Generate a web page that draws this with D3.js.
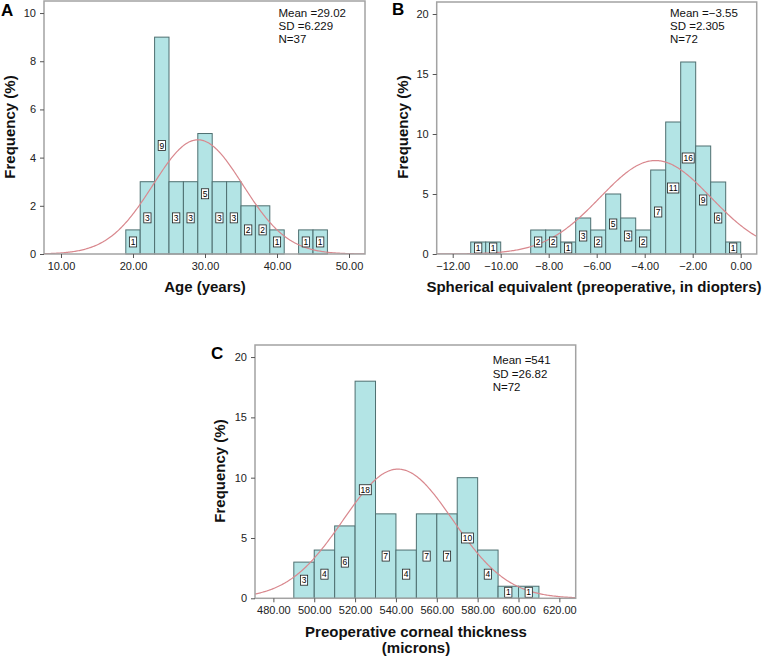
<!DOCTYPE html>
<html>
<head>
<meta charset="utf-8">
<script src="https://cdn.jsdelivr.net/npm/d3@7/dist/d3.min.js"></script>
<style>
  html,body{margin:0;padding:0;background:#fff;}
  svg{display:block;font-family:Arial,"Liberation Sans",sans-serif;}
</style>
</head>
<body>
<svg id="chart" width="764" height="658"></svg>
<script>
// ---------- DATA ----------
// Panel A: Age (years)
const ageLower  = [19,21,23,25,27,29,31,33,35,37,39,41,43,45];
const ageCounts = [1,3,9,3,3,5,3,3,2,2,1,0,1,1];
const ageBinWidth = 2;
const ageMean = 29.02, ageSD = 6.229, ageN = 37;
const ageStatLines = ["Mean =29.02","SD =6.229","N=37"];
const ageXTicks = [10,20,30,40,50];
const ageYTicks = [0,2,4,6,8,10];

// Panel B: Spherical equivalent
const sphLower  = [-11.25,-10.625,-10,-9.375,-8.75,-8.125,-7.5,-6.875,-6.25,-5.625,-5,-4.375,-3.75,-3.125,-2.5,-1.875,-1.25,-0.625];
const sphCounts = [1,1,0,0,2,2,1,3,2,5,3,2,7,11,16,9,6,1];
const sphBinWidth = 0.625;
const sphMean = -3.55, sphSD = 2.305, sphN = 72;
const sphStatLines = ["Mean =\u22123.55","SD =2.305","N=72"];
const sphXTicks = [-12,-10,-8,-6,-4,-2,0];
const sphYTicks = [0,5,10,15,20];

// Panel C: Preoperative corneal thickness
const cctLower  = [490,500,510,520,530,540,550,560,570,580,590,600];
const cctCounts = [3,4,6,18,7,4,7,7,10,4,1,1];
const cctBinWidth = 10;
const cctMean = 541, cctSD = 26.82, cctN = 72;
const cctStatLines = ["Mean =541","SD =26.82","N=72"];
const cctXTicks = [480,500,520,540,560,580,600,620];
const cctYTicks = [0,5,10,15,20];

// ---------- DRAW ----------
const svg = d3.select("#chart");
const BAR_FILL = "#b3e4e5", BAR_STROKE = "#4e6f70", CURVE = "#d9888e", FRAME = "#a3a3a3";
const fmtX = d3.format(".2f");

function panel(cfg, idx) {
  const x = d3.scaleLinear().domain(cfg.xDom).range([cfg.left, cfg.right]);
  const y = d3.scaleLinear().domain(cfg.yDom).range([cfg.bottom, cfg.top]);
  const g = svg.append("g");

  // clip
  const cid = "clip" + idx;
  svg.append("clipPath").attr("id", cid).append("rect")
    .attr("x", cfg.left).attr("y", cfg.top)
    .attr("width", cfg.right - cfg.left).attr("height", cfg.bottom - cfg.top);

  // bars
  const data = cfg.lower.map((l, i) => ({l, c: cfg.counts[i]})).filter(d => d.c > 0);
  g.append("g").selectAll("rect").data(data).join("rect")
    .attr("x", d => x(d.l)).attr("width", d => x(d.l + cfg.bw) - x(d.l))
    .attr("y", d => y(d.c)).attr("height", d => y(0) - y(d.c))
    .attr("fill", BAR_FILL).attr("stroke", BAR_STROKE).attr("stroke-width", 1);

  // normal curve
  const peakScale = cfg.n * cfg.bw / (cfg.sd * Math.sqrt(2 * Math.PI));
  const pts = d3.range(0, 301).map(i => cfg.xDom[0] + (cfg.xDom[1] - cfg.xDom[0]) * i / 300);
  const line = d3.line().x(v => x(v)).y(v => y(peakScale * Math.exp(-0.5 * Math.pow((v - cfg.mean) / cfg.sd, 2))));
  g.append("path").datum(pts).attr("d", line).attr("fill", "none")
    .attr("stroke", CURVE).attr("stroke-width", 1.2).attr("clip-path", `url(#${cid})`);

  // bar labels
  const lab = g.append("g").selectAll("g").data(data).join("g")
    .attr("transform", d => `translate(${x(d.l + cfg.bw / 2)},${y(d.c / 2)})`);
  lab.each(function(d) {
    const s = d3.select(this);
    const t = s.append("text").text(d.c).attr("font-size", 8.5).attr("text-anchor", "middle")
      .attr("dy", "0.35em").attr("fill", "#000");
    const w = t.node().getComputedTextLength() + 2.5;
    s.insert("rect", "text").attr("x", -w / 2).attr("y", -5).attr("width", w).attr("height", 10)
      .attr("fill", "#fff").attr("stroke", "#222").attr("stroke-width", 0.8);
  });

  // frame
  g.append("rect").attr("x", cfg.left).attr("y", cfg.top)
    .attr("width", cfg.right - cfg.left).attr("height", cfg.bottom - cfg.top)
    .attr("fill", "none").attr("stroke", FRAME).attr("stroke-width", 1.5);

  // x axis
  const xa = g.append("g").attr("transform", `translate(0,${cfg.bottom})`)
    .call(d3.axisBottom(x).tickValues(cfg.xTicks).tickFormat(fmtX).tickSize(4).tickSizeOuter(0));
  xa.select(".domain").remove();
  xa.selectAll("line").attr("stroke", "#555");
  xa.selectAll("text").attr("font-size", 11).attr("fill", "#222").attr("y", 8).attr("dy", "0.71em")
    .attr("font-family", "Arial, 'Liberation Sans', sans-serif");

  // y axis
  const ya = g.append("g").attr("transform", `translate(${cfg.left},0)`)
    .call(d3.axisLeft(y).tickValues(cfg.yTicks).tickFormat(d3.format("d")).tickSize(4).tickSizeOuter(0));
  ya.select(".domain").remove();
  ya.selectAll("line").attr("stroke", "#555");
  ya.selectAll("text").attr("font-size", 11).attr("fill", "#222").attr("x", -8)
    .attr("font-family", "Arial, 'Liberation Sans', sans-serif");

  // stats
  const st = g.append("text").attr("font-size", 11.5).attr("fill", "#111");
  cfg.statLines.forEach((s, i) => {
    st.append("tspan").attr("x", cfg.statX).attr("y", cfg.statY0 + i * cfg.statDy).text(s);
  });

  // x title
  const xt = g.append("text").attr("text-anchor", "middle").attr("font-size", 15)
    .attr("font-weight", "bold").attr("fill", "#111");
  cfg.xTitle.forEach((s, i) => {
    xt.append("tspan").attr("x", cfg.xTitleX).attr("y", cfg.xTitleY + i * 16).text(s);
  });

  // y title
  g.append("text").attr("transform", `translate(${cfg.yTitleX},${cfg.yTitleY}) rotate(-90)`)
    .attr("text-anchor", "middle").attr("font-size", 15).attr("font-weight", "bold")
    .attr("fill", "#111").text("Frequency (%)");

  // panel letter
  g.append("text").attr("x", cfg.letterX).attr("y", cfg.letterY).attr("font-size", 17)
    .attr("font-weight", "bold").attr("fill", "#000").text(cfg.letter);
}

panel({
  left: 44, right: 365, top: 1, bottom: 254,
  xDom: [7.64, 52.22], yDom: [0, 10.5],
  lower: ageLower, counts: ageCounts, bw: ageBinWidth,
  mean: ageMean, sd: ageSD, n: ageN,
  xTicks: ageXTicks, yTicks: ageYTicks,
  statLines: ageStatLines, statX: 278.5, statY0: 16.5, statDy: 13,
  xTitle: ["Age (years)"], xTitleX: 205, xTitleY: 292,
  yTitleX: 15, yTitleY: 127,
  letter: "A", letterX: 1, letterY: 15.5
}, 0);

panel({
  left: 436.7, right: 756.7, top: 2, bottom: 254,
  xDom: [-12.667, 0.667], yDom: [0, 21],
  lower: sphLower, counts: sphCounts, bw: sphBinWidth,
  mean: sphMean, sd: sphSD, n: sphN,
  xTicks: sphXTicks, yTicks: sphYTicks,
  statLines: sphStatLines, statX: 670, statY0: 16.5, statDy: 13.3,
  xTitle: ["Spherical equivalent (preoperative, in diopters)"], xTitleX: 594, xTitleY: 292,
  yTitleX: 408, yTitleY: 127,
  letter: "B", letterX: 392, letterY: 14.5
}, 1);

panel({
  left: 255, right: 575.7, top: 345, bottom: 598.3,
  xDom: [471.0, 628.0], yDom: [0, 21],
  lower: cctLower, counts: cctCounts, bw: cctBinWidth,
  mean: cctMean, sd: cctSD, n: cctN,
  xTicks: cctXTicks, yTicks: cctYTicks,
  statLines: cctStatLines, statX: 492.7, statY0: 364, statDy: 13.7,
  xTitle: ["Preoperative corneal thickness", "(microns)"], xTitleX: 416, xTitleY: 637,
  yTitleX: 225, yTitleY: 471,
  letter: "C", letterX: 211, letterY: 358.5
}, 2);
</script>
</body>
</html>
